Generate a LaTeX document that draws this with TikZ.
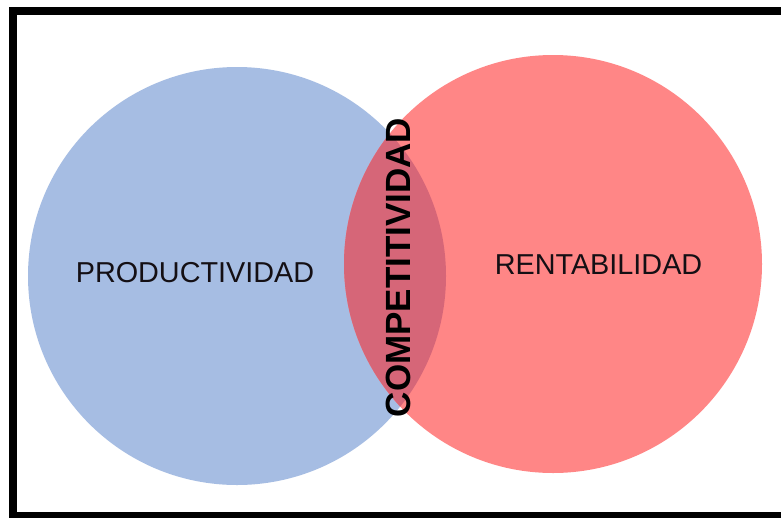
\documentclass[tikz,border=0pt]{standalone}
\usepackage{fontspec}
\setmainfont{Liberation Sans}
\definecolor{blueC}{RGB}{166,189,227}
\definecolor{redC}{RGB}{255,134,134}
\definecolor{lensC}{RGB}{214,102,120}
\definecolor{txtC}{RGB}{20,15,20}
\tikzset{
  circlab/.style={inner sep=0pt, text=txtC, font=\fontsize{28.8}{29}\selectfont},
  midlab/.style={inner sep=0pt, text=black, rotate=90, font=\fontsize{35}{35}\selectfont\bfseries},
  frame/.style={line width=8pt, draw=black}
}
\begin{document}
\begin{tikzpicture}[x=1pt,y=-1pt]
\useasboundingbox (0,0) rectangle (781,517);
\clip (0,0) rectangle (781,517);
\fill[white] (0,0) rectangle (781,517);
\fill[blueC] (237,276) circle (209);
\fill[redC] (553,264) circle (209);
\begin{scope}
  \clip (237,276) circle (209);
  \fill[lensC] (553,264) circle (209);
\end{scope}
\coordinate (tr) at (785,11);
\coordinate (tl) at (13,11);
\coordinate (bl) at (13,516);
\coordinate (br) at (785,516);
\draw[frame] (tr) -- (tl) -- (bl) -- (br);
\node[circlab] (prod) at (195,273) {PRODUCTIVIDAD};
\node[circlab] (rent) at (598.5,265) {RENTABILIDAD};
\node[midlab] (comp) at (398.5,267.5) {COMPETITIVIDAD};
\end{tikzpicture}
\end{document}
